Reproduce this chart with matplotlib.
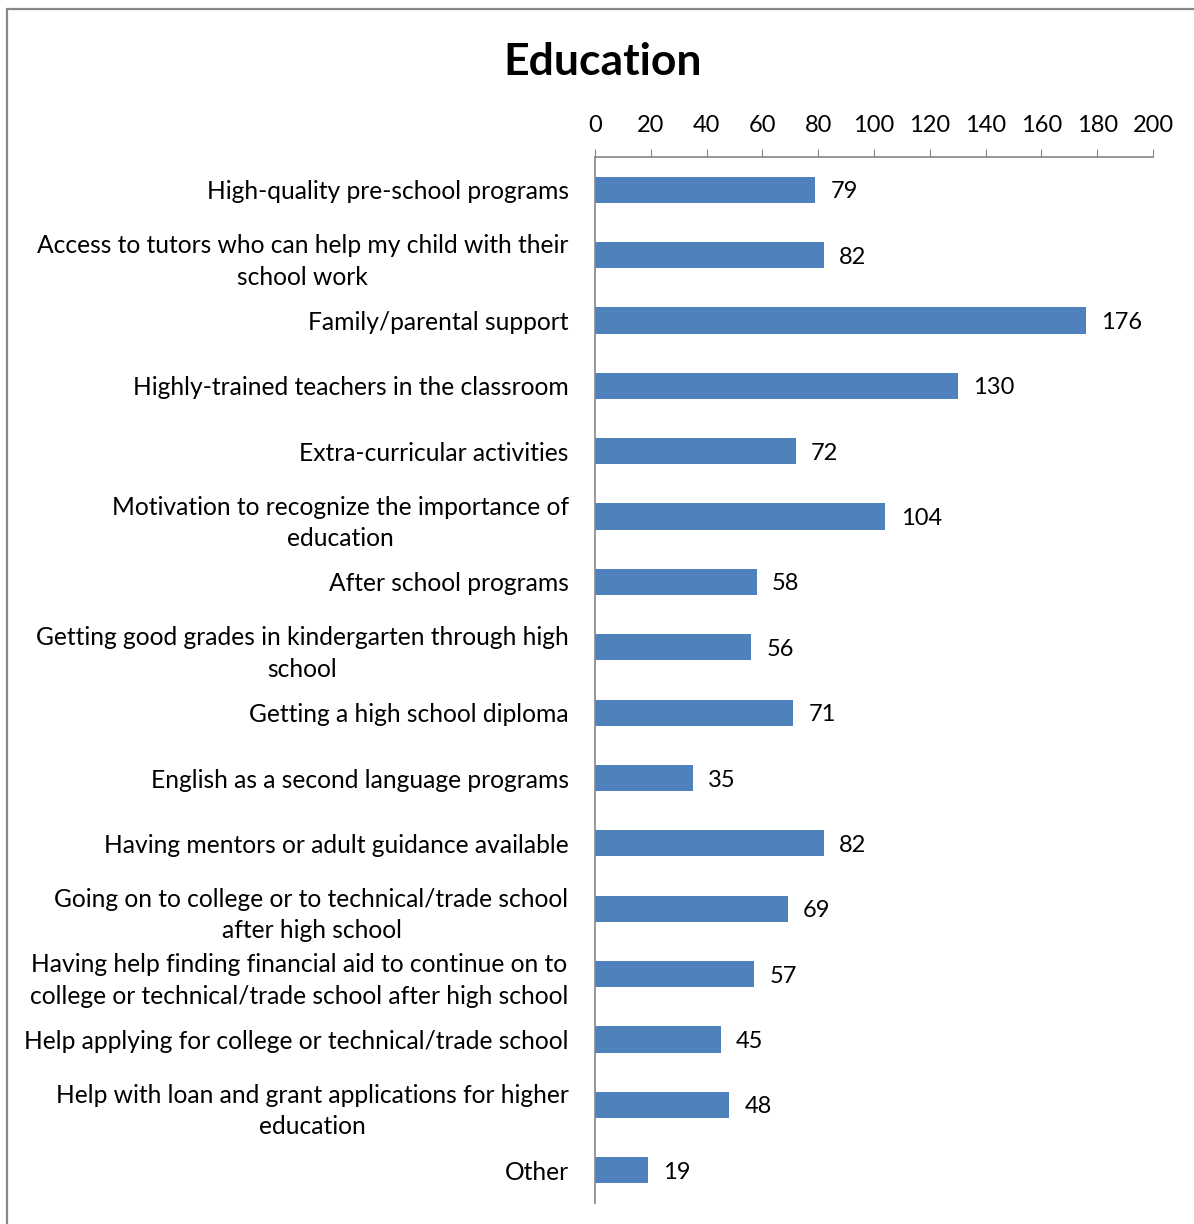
import matplotlib.pyplot as plt
from matplotlib.patches import Rectangle

plt.rcParams['font.family'] = ['Lato', 'DejaVu Sans']

categorias = [
    'High-quality pre-school programs',
    'Access to tutors who can help my child with their\nschool work',
    'Family/parental support',
    'Highly-trained teachers in the classroom',
    'Extra-curricular activities',
    'Motivation to recognize the importance of\neducation',
    'After school programs',
    'Getting good grades in kindergarten through high\nschool',
    'Getting a high school diploma',
    'English as a second language programs',
    'Having mentors or adult guidance available',
    'Going on to college or to technical/trade school\nafter high school',
    'Having help finding financial aid to continue on to\ncollege or technical/trade school after high school',
    'Help applying for college or technical/trade school',
    'Help with loan and grant applications for higher\neducation',
    'Other',
]
valores = [79, 82, 176, 130, 72, 104, 58, 56, 71, 35, 82, 69, 57, 45, 48, 19]
ticks_x = [0, 20, 40, 60, 80, 100, 120, 140, 160, 180, 200]

fig = plt.figure(figsize=(11.94, 12.24), dpi=100)
ax = fig.add_axes([0.4983, 0.0172, 0.4674, 0.8545])

pos = list(range(len(valores)))
ax.barh(pos, valores, height=0.4, color='#4f81bd')
ax.set_ylim(len(valores) - 0.5, -0.5)
ax.set_xlim(0, 200)

for y, v in zip(pos, valores):
    ax.text(v + 5.5, y, str(v), va='center_baseline', ha='left', fontsize=17)

ax.set_yticks(pos)
ax.set_yticklabels(categorias, fontsize=17.7, linespacing=1.45, multialignment='center')
ax.tick_params(axis='y', length=0, pad=19)

ax.xaxis.tick_top()
ax.set_xticks(ticks_x)
ax.tick_params(axis='x', direction='out', length=5.5, color='#868686', labelsize=17, pad=10)

for lado in ['right', 'bottom']:
    ax.spines[lado].set_visible(False)
for lado in ['left', 'top']:
    ax.spines[lado].set_color('#868686')
    ax.spines[lado].set_linewidth(1.2)

fig.text(0.505, 0.949, 'Education', ha='center', va='center', fontsize=32, fontweight='bold')

# marco gris del gráfico
fig.patches.append(Rectangle((7 / 1194, -0.1), 1.2, 1 - 9 / 1224 + 0.1, transform=fig.transFigure,
                             fill=False, edgecolor='#878787', linewidth=1.6))

fig.savefig('out.png', dpi=100)
